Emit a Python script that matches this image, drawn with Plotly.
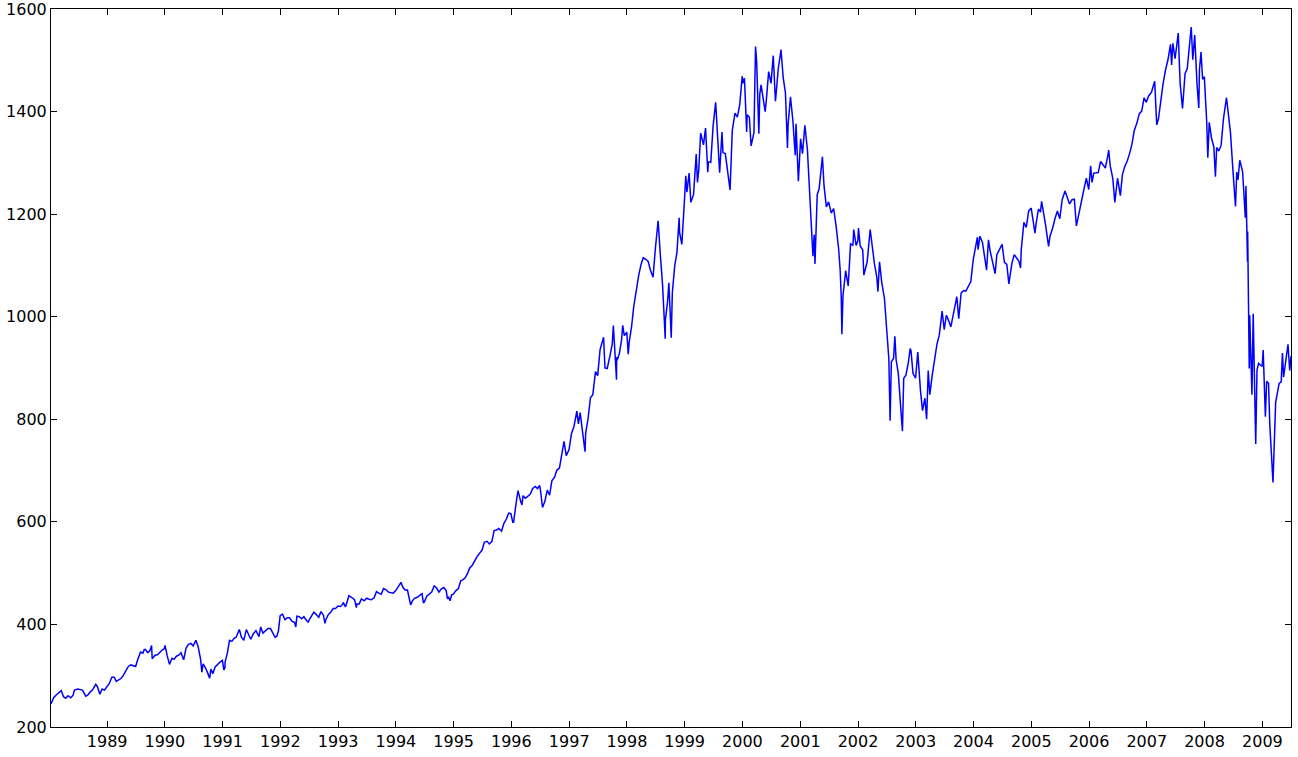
import plotly.graph_objects as go

# S&P 500 closes (date "MM-DD", value)
y1988 = [("01-12", 245), ("01-29", 257), ("02-12", 262), ("02-29", 267), ("03-17", 271), ("03-31", 259),
         ("04-14", 256), ("04-29", 261), ("05-16", 257), ("05-31", 262), ("06-08", 272), ("06-30", 274),
         ("07-15", 273), ("07-29", 272), ("08-19", 260), ("08-31", 262), ("09-15", 268), ("09-30", 272),
         ("10-21", 283), ("10-31", 279), ("11-16", 264), ("11-30", 274), ("12-15", 272), ("12-30", 278)]
y1989 = [("01-13", 284), ("01-31", 297), ("02-15", 297), ("02-28", 289), ("03-15", 292), ("03-31", 295),
         ("04-14", 301), ("04-28", 310), ("05-15", 318), ("05-31", 321), ("06-15", 320), ("06-30", 318),
         ("07-14", 332), ("07-31", 346), ("08-15", 344), ("08-24", 351), ("08-31", 351), ("09-15", 345),
         ("09-29", 349), ("10-09", 359), ("10-13", 333), ("10-31", 340), ("11-15", 341), ("11-30", 346),
         ("12-15", 350), ("12-29", 353)]
y1990 = [("01-02", 359), ("01-15", 340), ("01-30", 322), ("02-15", 334), ("02-28", 332), ("03-15", 338),
         ("03-30", 340), ("04-13", 345), ("04-30", 331), ("05-15", 354), ("05-31", 361), ("06-15", 363),
         ("06-29", 358), ("07-16", 369), ("07-31", 356), ("08-15", 332), ("08-23", 307), ("08-31", 323),
         ("09-14", 316), ("09-28", 306), ("10-11", 295), ("10-19", 313), ("10-31", 304), ("11-15", 317),
         ("11-30", 322), ("12-14", 326), ("12-31", 330)]
y1991 = [("01-09", 311), ("01-16", 316), ("01-17", 327), ("01-31", 344), ("02-14", 369), ("02-28", 367),
         ("03-15", 373), ("03-28", 375), ("04-17", 390), ("04-30", 375), ("05-15", 369), ("05-31", 390),
         ("06-14", 382), ("06-28", 371), ("07-15", 382), ("07-31", 388), ("08-19", 376), ("08-30", 395),
         ("09-13", 383), ("09-30", 388), ("10-15", 392), ("10-31", 392), ("11-15", 382), ("11-29", 375),
         ("12-10", 377), ("12-20", 387), ("12-31", 417)]
y1992 = [("01-15", 420), ("01-31", 409), ("02-14", 413), ("02-28", 413), ("03-16", 406), ("03-31", 404),
         ("04-08", 395), ("04-15", 416), ("04-30", 415), ("05-15", 411), ("05-29", 415), ("06-12", 409),
         ("06-25", 404), ("06-30", 408), ("07-15", 416), ("07-31", 424), ("08-14", 420), ("08-31", 414),
         ("09-14", 425), ("09-30", 418), ("10-09", 402), ("10-15", 409), ("10-30", 419), ("11-13", 423),
         ("11-30", 431), ("12-15", 431), ("12-31", 436)]
y1993 = [("01-15", 435), ("01-29", 439), ("02-02", 443), ("02-16", 434), ("02-26", 443), ("03-10", 456),
         ("03-31", 452), ("04-15", 448), ("04-26", 433), ("04-30", 440), ("05-14", 440), ("05-28", 450),
         ("06-15", 446), ("06-30", 451), ("07-15", 449), ("07-30", 448), ("08-16", 452), ("08-31", 464),
         ("09-15", 461), ("09-30", 459), ("10-15", 470), ("10-29", 468), ("11-15", 463), ("11-30", 462),
         ("12-15", 461), ("12-31", 466)]
y1994 = [("01-14", 474), ("02-02", 482), ("02-15", 472), ("02-28", 467), ("03-15", 467), ("03-31", 446),
         ("04-04", 438), ("04-15", 446), ("04-29", 451), ("05-16", 453), ("05-31", 457), ("06-15", 460),
         ("06-24", 442), ("06-30", 444), ("07-15", 455), ("07-29", 458), ("08-15", 463), ("08-31", 475),
         ("09-15", 471), ("09-30", 463), ("10-14", 469), ("10-31", 472), ("11-15", 466), ("11-23", 450),
         ("11-30", 454), ("12-09", 446), ("12-20", 458), ("12-30", 459)]
y1995 = [("01-13", 465), ("01-31", 470), ("02-15", 485), ("02-28", 487), ("03-15", 491), ("03-31", 500),
         ("04-13", 510), ("04-28", 515), ("05-15", 526), ("05-31", 533), ("06-15", 539), ("06-30", 545),
         ("07-14", 560), ("07-31", 562), ("08-15", 557), ("08-31", 562), ("09-14", 583), ("09-29", 584),
         ("10-13", 587), ("10-31", 582), ("11-15", 597), ("11-30", 605), ("12-15", 617), ("12-29", 616)]
y1996 = [("01-10", 599), ("01-15", 599), ("01-31", 636), ("02-12", 661), ("02-29", 640), ("03-08", 633),
         ("03-15", 651), ("03-29", 646), ("04-15", 650), ("04-30", 654), ("05-15", 665), ("05-31", 669),
         ("06-14", 665), ("06-28", 671), ("07-05", 657), ("07-16", 628), ("07-31", 640), ("08-15", 662),
         ("08-30", 652), ("09-13", 680), ("09-30", 687), ("10-15", 701), ("10-31", 705), ("11-15", 737),
         ("11-29", 757), ("12-13", 729), ("12-31", 741)]
y1997 = [("01-15", 772), ("01-31", 786), ("02-18", 816), ("02-28", 791), ("03-11", 813), ("03-31", 757),
         ("04-11", 737), ("04-15", 773), ("04-30", 801), ("05-15", 842), ("05-30", 848), ("06-16", 893),
         ("06-30", 885), ("07-15", 936), ("07-31", 954), ("08-06", 960), ("08-15", 900), ("08-29", 899),
         ("09-15", 923), ("09-30", 947), ("10-07", 983), ("10-27", 877), ("10-28", 921), ("10-31", 915),
         ("11-14", 928), ("11-28", 955), ("12-05", 983), ("12-15", 963), ("12-31", 970)]
y1998 = [("01-09", 927), ("01-15", 950), ("01-30", 980), ("02-13", 1020), ("02-27", 1049), ("03-16", 1080),
         ("03-31", 1102), ("04-14", 1115), ("04-30", 1112), ("05-15", 1108), ("05-29", 1091), ("06-15", 1077),
         ("06-30", 1134), ("07-17", 1187), ("07-31", 1121), ("08-14", 1063), ("08-31", 957), ("09-01", 994),
         ("09-15", 1030), ("09-23", 1066), ("09-30", 1017), ("10-08", 959), ("10-15", 1047), ("10-30", 1099),
         ("11-13", 1125), ("11-27", 1193), ("11-30", 1164), ("12-14", 1141), ("12-31", 1229)]
y1999 = [("01-08", 1275), ("01-15", 1243), ("01-29", 1280), ("02-09", 1223), ("02-26", 1238), ("03-15", 1317),
         ("03-23", 1262), ("03-31", 1286), ("04-12", 1358), ("04-30", 1335), ("05-13", 1368), ("05-27", 1282),
         ("05-31", 1302), ("06-15", 1301), ("06-30", 1373), ("07-16", 1418), ("07-30", 1329), ("08-10", 1281),
         ("08-25", 1360), ("08-31", 1320), ("09-15", 1318), ("09-30", 1283), ("10-15", 1247), ("10-29", 1363),
         ("11-15", 1397), ("11-30", 1389), ("12-15", 1413), ("12-31", 1469)]
y2000 = [("01-03", 1455), ("01-14", 1465), ("01-28", 1360), ("01-31", 1394), ("02-14", 1389), ("02-25", 1333),
         ("03-14", 1359), ("03-24", 1527), ("03-31", 1499), ("04-14", 1357), ("04-20", 1434), ("04-28", 1452),
         ("05-12", 1421), ("05-24", 1400), ("05-31", 1421), ("06-15", 1478), ("06-30", 1455), ("07-14", 1509),
         ("07-28", 1420), ("08-15", 1484), ("08-31", 1518), ("09-01", 1521), ("09-15", 1466), ("09-29", 1437),
         ("10-12", 1329), ("10-16", 1374), ("10-31", 1429), ("11-15", 1383), ("11-30", 1315), ("12-05", 1376),
         ("12-20", 1264), ("12-29", 1320)]
y2001 = [("01-03", 1347), ("01-15", 1318), ("01-30", 1373), ("02-15", 1326), ("02-28", 1240), ("03-12", 1180),
         ("03-22", 1118), ("03-30", 1160), ("04-04", 1103), ("04-18", 1238), ("04-30", 1249), ("05-21", 1312),
         ("05-31", 1256), ("06-15", 1214), ("06-29", 1224), ("07-16", 1202), ("07-31", 1211), ("08-15", 1178),
         ("08-31", 1134), ("09-10", 1092), ("09-17", 1039), ("09-21", 966), ("09-28", 1041), ("10-15", 1090),
         ("10-31", 1060), ("11-15", 1142), ("11-30", 1139), ("12-05", 1170), ("12-20", 1139), ("12-31", 1148)]
y2002 = [("01-04", 1173), ("01-15", 1138), ("01-31", 1130), ("02-07", 1081), ("02-28", 1107), ("03-19", 1170),
         ("03-28", 1147), ("04-15", 1103), ("04-30", 1077), ("05-07", 1049), ("05-17", 1107), ("05-31", 1067),
         ("06-17", 1036), ("06-28", 990), ("07-10", 920), ("07-15", 918), ("07-23", 797), ("07-31", 912),
         ("08-14", 919), ("08-22", 962), ("08-30", 916), ("09-13", 889), ("09-30", 815), ("10-09", 777),
         ("10-17", 880), ("10-31", 886), ("11-15", 910), ("11-27", 938), ("12-02", 934), ("12-15", 889),
         ("12-31", 880)]
y2003 = [("01-14", 931), ("01-31", 856), ("02-13", 817), ("02-28", 841), ("03-11", 800), ("03-21", 895),
         ("03-31", 848), ("04-15", 885), ("04-30", 917), ("05-15", 946), ("05-30", 964), ("06-17", 1011),
         ("06-30", 975), ("07-14", 1003), ("07-31", 990), ("08-11", 980), ("08-29", 1008), ("09-18", 1039),
         ("09-30", 996), ("10-15", 1046), ("10-31", 1051), ("11-14", 1050), ("11-28", 1058), ("12-15", 1068),
         ("12-31", 1112)]
y2004 = [("01-15", 1133), ("01-26", 1155), ("01-30", 1131), ("02-11", 1157), ("02-27", 1145), ("03-10", 1123),
         ("03-24", 1091), ("03-31", 1126), ("04-05", 1150), ("04-15", 1129), ("04-30", 1107), ("05-17", 1084),
         ("05-28", 1121), ("06-15", 1133), ("06-30", 1141), ("07-15", 1106), ("07-30", 1102), ("08-12", 1064),
         ("08-31", 1104), ("09-15", 1121), ("09-30", 1115), ("10-15", 1108), ("10-25", 1095), ("10-29", 1130),
         ("11-15", 1184), ("11-30", 1174), ("12-15", 1206), ("12-31", 1212)]
y2005 = [("01-14", 1184), ("01-24", 1163), ("01-31", 1181), ("02-15", 1210), ("02-28", 1204), ("03-07", 1225),
         ("03-31", 1181), ("04-20", 1137), ("04-29", 1157), ("05-16", 1173), ("05-31", 1192), ("06-15", 1206),
         ("06-30", 1191), ("07-15", 1228), ("08-02", 1245), ("08-15", 1234), ("08-31", 1220), ("09-15", 1228),
         ("09-30", 1229), ("10-13", 1177), ("10-31", 1207), ("11-15", 1229), ("11-30", 1249), ("12-15", 1270),
         ("12-30", 1248)]
y2006 = [("01-11", 1294), ("01-20", 1262), ("01-31", 1280), ("02-15", 1281), ("02-28", 1281), ("03-15", 1303),
         ("03-31", 1295), ("04-14", 1290), ("04-28", 1311), ("05-05", 1325), ("05-15", 1294), ("05-31", 1270),
         ("06-13", 1223), ("06-30", 1270), ("07-18", 1236), ("07-31", 1277), ("08-15", 1293), ("08-31", 1304),
         ("09-15", 1319), ("09-29", 1336), ("10-13", 1362), ("10-31", 1378), ("11-15", 1396), ("11-30", 1401),
         ("12-15", 1427), ("12-29", 1418)]
y2007 = [("01-12", 1430), ("01-31", 1438), ("02-20", 1459), ("02-27", 1399), ("03-05", 1374), ("03-16", 1386),
         ("03-30", 1421), ("04-13", 1452), ("04-30", 1482), ("05-15", 1501), ("05-31", 1531), ("06-07", 1491),
         ("06-15", 1533), ("06-29", 1503), ("07-19", 1553), ("07-31", 1455), ("08-15", 1406), ("08-16", 1411),
         ("08-31", 1474), ("09-14", 1484), ("09-28", 1527), ("10-09", 1565), ("10-19", 1501), ("10-31", 1549),
         ("11-15", 1452), ("11-26", 1407), ("11-30", 1481), ("12-10", 1516), ("12-20", 1463), ("12-31", 1468)]
y2008 = [("01-15", 1380), ("01-22", 1310), ("01-31", 1379), ("02-14", 1349), ("02-29", 1331), ("03-10", 1273),
         ("03-18", 1330), ("03-31", 1323), ("04-15", 1334), ("04-30", 1386), ("05-19", 1427), ("05-30", 1400),
         ("06-13", 1360), ("06-30", 1280), ("07-15", 1215), ("07-23", 1282), ("07-31", 1267), ("08-11", 1305),
         ("08-29", 1283), ("09-15", 1193), ("09-19", 1255), ("09-29", 1107), ("09-30", 1166), ("10-10", 899),
         ("10-13", 1003), ("10-27", 848), ("10-31", 969), ("11-04", 1006), ("11-20", 752), ("11-28", 896),
         ("12-08", 909), ("12-31", 903)]
y2009 = [("01-06", 935), ("01-20", 805), ("01-28", 874), ("02-09", 870), ("02-17", 789), ("02-27", 735),
         ("03-09", 677), ("03-26", 833), ("04-17", 870), ("04-30", 873), ("05-08", 929), ("05-15", 882),
         ("05-29", 919), ("06-12", 946), ("06-23", 895), ("06-30", 919), ("07-01", 923)]

y_ticks = [200, 400, 600, 800, 1000, 1200, 1400, 1600]

years = {1988: y1988, 1989: y1989, 1990: y1990, 1991: y1991, 1992: y1992, 1993: y1993,
         1994: y1994, 1995: y1995, 1996: y1996, 1997: y1997, 1998: y1998, 1999: y1999,
         2000: y2000, 2001: y2001, 2002: y2002, 2003: y2003, 2004: y2004, 2005: y2005,
         2006: y2006, 2007: y2007, 2008: y2008, 2009: y2009}

dates, closes = [], []
for yr, rows in years.items():
    for md, v in rows:
        dates.append(f"{yr}-{md}")
        closes.append(v)

fig = go.Figure(go.Scatter(x=dates, y=closes, mode="lines",
                           line=dict(color="#0000ff", width=1.5), hoverinfo="skip"))

axis_common = dict(showline=True, linecolor="black", linewidth=1, mirror="ticks",
                   ticks="inside", ticklen=6, tickcolor="black", tickwidth=1,
                   showgrid=False, zeroline=False, ticklabeloverflow="allow",
                   automargin=False,
                   tickfont=dict(family="DejaVu Sans", size=16, color="black"))

fig.update_layout(
    width=1298, height=757,
    margin=dict(l=51, r=7, t=9, b=30),
    paper_bgcolor="white", plot_bgcolor="white",
    showlegend=False,
    xaxis=dict(range=["1988-01-12", "2009-07-01"], tickformat="%Y", dtick="M12",
               tick0="1989-01-01", **axis_common),
    yaxis=dict(range=[200, 1600], tickmode="array", tickvals=y_ticks,
               ticktext=[str(t) for t in y_ticks], **axis_common),
)

fig.write_html("out.html")
